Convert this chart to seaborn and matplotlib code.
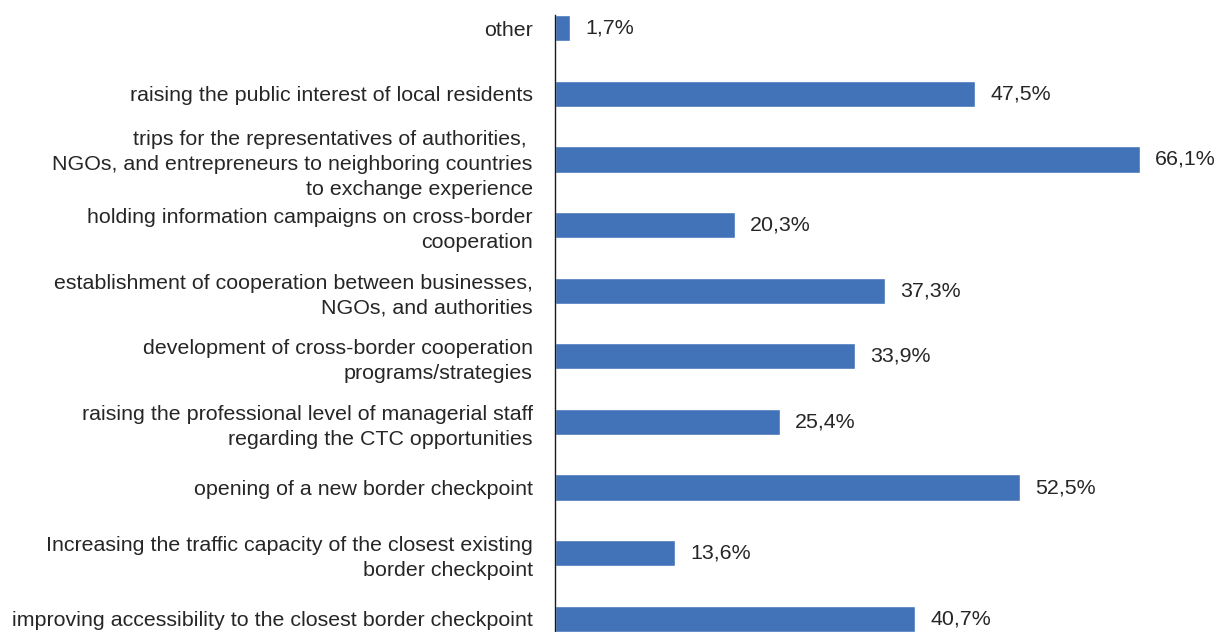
import matplotlib
matplotlib.use("Agg")
import matplotlib.pyplot as plt
import seaborn as sns
import pandas as pd

categories = [
    "other",
    "raising the public interest of local residents",
    "trips for the representatives of authorities, \nNGOs, and entrepreneurs to neighboring countries\nto exchange experience",
    "holding information campaigns on cross-border\ncooperation",
    "establishment of cooperation between businesses,\nNGOs, and authorities",
    "development of cross-border cooperation\nprograms/strategies",
    "raising the professional level of managerial staff\nregarding the CTC opportunities",
    "opening of a new border checkpoint",
    "Increasing the traffic capacity of the closest existing\nborder checkpoint",
    "improving accessibility to the closest border checkpoint",
]
shares = [1.7, 47.5, 66.1, 20.3, 37.3, 33.9, 25.4, 52.5, 13.6, 40.7]

df = pd.DataFrame({"category": categories, "share": shares})

sns.set_theme(style="white")
plt.rcParams["font.family"] = ["Liberation Sans", "DejaVu Sans"]

text_color = "#262626"
bar_color = "#4273B9"
font_size = 15.4

fig = plt.figure(figsize=(12.17, 6.32), dpi=100)
ax = fig.add_axes([555 / 1217, 0.0, 662 / 1217, 1.0])

sns.barplot(data=df, x="share", y="category", orient="h", color=bar_color,
            width=0.4, saturation=1.0, ax=ax)

ax.set_xlim(0, 74.8)
ax.set_ylim(9.2, -0.43)

for i, v in enumerate(shares):
    ax.annotate(f"{v:.1f}%".replace(".", ","), xy=(v, i), xytext=(11, 0),
                textcoords="offset points", va="center", ha="left",
                fontsize=font_size, color=text_color)

ax.set_xlabel("")
ax.set_ylabel("")
ax.set_xticks([])
ax.tick_params(axis="y", length=0, pad=16, labelsize=font_size, labelcolor=text_color)
for lbl in ax.get_yticklabels():
    lbl.set_multialignment("right")
    lbl.set_linespacing(1.4)

for side in ("top", "right", "bottom"):
    ax.spines[side].set_visible(False)
ax.spines["left"].set_color("#1a1a1a")
ax.spines["left"].set_linewidth(1.0)
ax.spines["left"].set_bounds(-0.2, 9.2)

fig.savefig("out.png", dpi=100, facecolor="white")
